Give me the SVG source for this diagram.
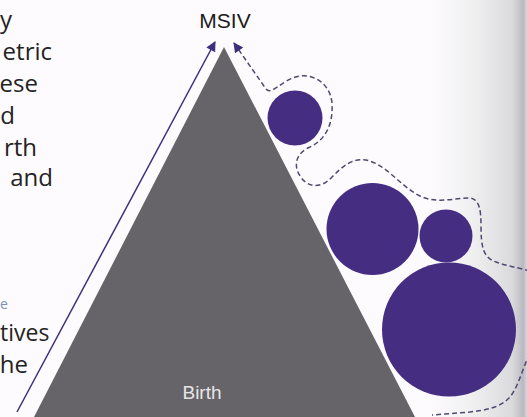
<svg xmlns="http://www.w3.org/2000/svg" width="527" height="417" viewBox="0 0 527 417">
  <defs>
    <linearGradient id="edge" x1="0" y1="0" x2="1" y2="0">
      <stop offset="0" stop-color="#fefbfe"/>
      <stop offset="0.45" stop-color="#efeff0"/>
      <stop offset="0.85" stop-color="#dadadd"/>
      <stop offset="0.93" stop-color="#c4c3ca"/>
      <stop offset="0.96" stop-color="#b8b6c0"/>
      <stop offset="1" stop-color="#d8d8dc"/>
    </linearGradient>
    <marker id="head" viewBox="0 0 10 10" refX="9" refY="5" markerWidth="12" markerHeight="10" markerUnits="userSpaceOnUse" orient="auto-start-reverse">
      <path d="M0,0 L10,5 L0,10 Z" fill="#3e2f7c"/>
    </marker>
    <style>
      .side { font-family: "Open Sans", "Liberation Sans", sans-serif; font-size: 24px; fill: #232323; }
      .end { text-anchor: end; }
      .lbl { font-family: "Liberation Sans", Arial, sans-serif; }
      .bub { fill: #452d82; }
      .conn { fill: none; stroke: #3e2f7c; stroke-width: 1.5; }
      .dash { stroke: #4c4a6e; stroke-dasharray: 5 3; }
    </style>
  </defs>

  <rect x="0" y="0" width="527" height="417" fill="#fefbfe"/>
  <rect x="430" y="0" width="97" height="417" fill="url(#edge)"/>

  <g id="side-text">
    <text class="side" x="0" y="28">y</text>
    <text class="side end" x="52" y="60">etric</text>
    <text class="side end" x="38" y="92">ese</text>
    <text class="side end" x="15" y="124">d</text>
    <text class="side end" x="37" y="156">rth</text>
    <text class="side end" x="53" y="186">and</text>
    <text class="side" x="0" y="309" style="fill:#7a90b8;font-size:14px">e</text>
    <text class="side" x="0" y="341" style="font-size:23px">tives</text>
    <text class="side end" x="28" y="373">he</text>
  </g>

  <g id="pyramid">
    <polygon points="224,47 415,417 34,417" fill="#666468"/>
    <text class="lbl" x="202" y="399" font-size="19" fill="#e6e6e6" text-anchor="middle">Birth</text>
  </g>

  <g id="msiv">
    <text class="lbl" x="225" y="28" font-size="21" fill="#1c1c1c" text-anchor="middle">MSIV</text>
  </g>

  <g id="bubble-1"><circle class="bub" cx="295" cy="118" r="27.5"/></g>
  <g id="bubble-2"><circle class="bub" cx="372.5" cy="229" r="46"/></g>
  <g id="bubble-3"><circle class="bub" cx="446" cy="236" r="26.5"/></g>
  <g id="bubble-4"><circle class="bub" cx="449" cy="329.5" r="67"/></g>

  <g id="connectors">
    <line class="conn" x1="17" y1="412" x2="215" y2="42" marker-end="url(#head)"/>
    <path class="conn dash" marker-start="url(#head)" d="M234,43 L266,89 C272,96 282,79 300,76 C318,74 332,88 332,105 C333,125 325,140 310,147 C296,153 293,165 300,176 C307,187 320,190 332,177 C343,166 352,158 366,160 C386,164 400,186 420,196 C436,204 455,198 470,198 C480,199 481,212 481,226 C481,246 483,258 496,262 C506,266 516,267 530,271 L540,280 L540,340 C526,350 522,382 510,397 C500,408 486,410 470,412 L432,415"/>
  </g>
</svg>
